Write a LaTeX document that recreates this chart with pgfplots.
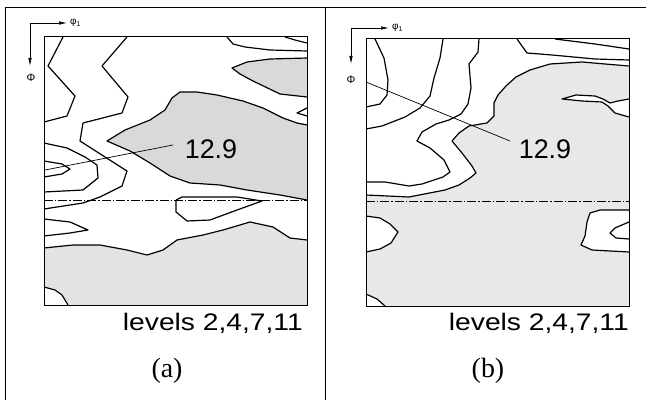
\documentclass[border=0pt]{standalone}
\usepackage{fontspec}
\setmainfont{Liberation Sans}
\newfontfamily\seriffont{Liberation Serif}
\usepackage{graphicx}
\usepackage{pgfplots}
\pgfplotsset{compat=1.18}
\usetikzlibrary{arrows.meta}
\definecolor{stipA}{gray}{0.85}
\definecolor{stipB}{gray}{0.89}
\definecolor{stipC}{gray}{0.91}
\pgfplotsset{
  odf/.style={scale only axis, anchor=south west, y dir=reverse,
    xtick=\empty, ytick=\empty, clip=false, axis on top,
    axis line style={line width=1pt}},
  cl/.style={black, line width=1.2pt, line join=round},
  dd/.style={black, line width=0.9pt, dash pattern=on 9pt off 2pt on 1.5pt off 2pt},
  lead/.style={black, line width=0.7pt},
}
\newcommand{\bigtxt}{\fontsize{27}{31}\selectfont}
\newcommand{\levtxt}{\fontsize{24}{28}\selectfont}
\newcommand{\captxt}{\seriffont\fontsize{28}{32}\selectfont}
\begin{document}
\begin{tikzpicture}
\useasboundingbox (0,0) rectangle (646bp,400bp);
\draw[line width=1pt] (5bp,0) -- (5bp,392bp) -- (646bp,392bp);
\draw[line width=1pt] (325bp,0) -- (325bp,392bp);
% ---------------- panel (a)
\begin{axis}[odf, at={(44bp,95bp)}, width=263bp, height=268bp,
  xmin=44, xmax=307, ymin=37, ymax=305]
% shaded regions
\addplot[fill=stipA, draw=none] coordinates {(107,141) (125,130) (150,120) (165,110) (172,98) (180,92) (197,92) (217,95) (243,101) (263,108) (283,118) (297,123) (307,125) (307,200) (280,195) (247,190) (220,185) (190,183) (170,176) (150,163) (130,151) (107,141)};
\addplot[fill=stipA, draw=none] coordinates {(307,58) (270,59) (247,62) (232,68) (240,74) (253,81) (280,94) (307,97)};
\addplot[fill=stipB, draw=none] coordinates {(44,248) (73,245) (100,245) (127,250) (147,255) (163,250) (177,240) (203,235) (223,230) (250,222) (273,227) (290,238) (307,240) (307,305) (68,305) (62,295) (55,290) (44,287)};
% contour lines
\addplot[cl] coordinates {(307,125) (297,123) (283,118) (263,108) (243,101) (217,95) (197,92) (180,92) (172,98) (165,110) (150,120) (125,130) (107,141) (130,151) (150,163) (170,176) (190,183) (220,185) (247,190) (280,195) (307,200)};
\addplot[cl] coordinates {(307,58) (270,59) (247,62) (232,68) (240,74) (253,81) (280,94) (307,97)};
\addplot[cl] coordinates {(285,37) (295,40) (307,43)};
\addplot[cl] coordinates {(227,37) (233,44) (245,47) (270,50) (307,51)};
\addplot[cl] coordinates {(307,108) (297,113) (307,116)};
\addplot[cl] coordinates {(63,37) (48,66) (75,96) (67,116) (44,122)};
\addplot[cl] coordinates {(127,37) (102,66) (128,97) (122,113) (83,123) (80,141) (105,157) (127,171) (122,186) (100,197) (83,203) (44,209)};
\addplot[cl] coordinates {(44,219) (70,222) (88,230) (70,233) (44,236)};
\addplot[cl] coordinates {(44,143) (67,148) (85,157) (97,165) (98,178) (83,190) (44,192)};
\addplot[cl] coordinates {(44,161) (62,164) (70,169) (62,174) (44,177)};
\addplot[cl] coordinates {(176,200) (182,197) (237,197) (262,201) (237,210) (210,220) (187,221) (176,212) (176,200)};
\addplot[cl] coordinates {(44,248) (73,245) (100,245) (127,250) (147,255) (163,250) (177,240) (203,235) (223,230) (250,222) (273,227) (290,238) (307,240)};
\addplot[cl] coordinates {(44,287) (55,290) (62,295) (68,305)};
\addplot[dd] coordinates {(44,200) (307,200)};
\addplot[lead] coordinates {(45,170) (173,145)};
% annotations
\node[font=\bigtxt] at (axis cs:211,149) {12.9};
\node[anchor=base east, font=\levtxt, inner sep=0pt] at (axis cs:303,330) {\scalebox{1.18}[1]{levels 2,4,7,11}};
\node[font=\captxt] at (axis cs:167,371) {(a)};
\draw[line width=0.7pt, -{Latex[length=8bp,width=3.5bp]}] (axis cs:30,23) -- (axis cs:67,23);
\draw[line width=0.7pt, -{Latex[length=8bp,width=3.5bp]}] (axis cs:30,23) -- (axis cs:30,66);
\node[anchor=west, font=\fontsize{10}{12}\selectfont, inner sep=1pt] at (axis cs:69,23) {φ\textsubscript{1}};
\node[font=\fontsize{11}{13}\selectfont] at (axis cs:31,78) {Φ};
\end{axis}
% ---------------- panel (b)
\begin{axis}[odf, at={(366bp,94bp)}, width=263bp, height=267bp,
  xmin=366, xmax=629, ymin=39, ymax=306]
\addplot[fill=stipC, draw=none] coordinates {(366,195) (409,197) (445,190) (459,185) (470,178) (476,173) (472,166) (462,153) (452,141) (459,133) (469,126) (487,123) (494,116) (494,103) (498,95) (506,86) (516,77) (530,70) (550,64) (582,62) (605,64) (629,66) (629,306) (385,306) (377,299) (366,294)};
% white pockets
\addplot[fill=white, draw=none] coordinates {(629,99) (618,101) (610,103) (603,99) (595,96) (576,95) (562,99) (582,101) (602,102) (608,106) (615,113) (629,117)};
\addplot[fill=white, draw=none] coordinates {(366,216) (380,218) (390,224) (398,232) (391,243) (380,249) (366,252)};
\addplot[fill=white, draw=none] coordinates {(629,210) (600,210) (590,213) (587,222) (585,236) (581,245) (592,250) (629,252)};
% contour lines
\addplot[cl] coordinates {(366,195) (409,197) (445,190) (459,185) (470,178) (476,173) (472,166) (462,153) (452,141) (459,133) (469,126) (487,123) (494,116) (494,103) (498,95) (506,86) (516,77) (530,70) (550,64) (582,62) (605,64) (629,66)};
\addplot[cl] coordinates {(629,99) (618,101) (610,103) (603,99) (595,96) (576,95) (562,99) (582,101) (602,102) (608,106) (615,113) (629,117)};
\addplot[cl] coordinates {(517,39) (527,53) (552,55) (595,59) (629,60)};
\addplot[cl] coordinates {(555,39) (595,44) (629,49)};
\addplot[cl] coordinates {(375,39) (384,58) (388,80) (387,95) (380,104) (366,107)};
\addplot[cl] coordinates {(443,39) (440,58) (434,78) (430,96) (420,108) (405,117) (382,126) (366,129)};
\addplot[cl] coordinates {(479,39) (478,52) (469,64) (471,88) (468,104) (461,114) (449,120) (436,124) (422,132) (417,141) (430,148) (444,160) (450,172) (443,177) (422,184) (409,186) (385,182) (366,182)};
\addplot[cl] coordinates {(366,216) (380,218) (390,224) (398,232) (391,243) (380,249) (366,252)};
\addplot[cl] coordinates {(629,210) (600,210) (590,213) (587,222) (585,236) (581,245) (592,250) (629,252)};
\addplot[cl] coordinates {(629,222) (615,228) (610,233) (616,238) (629,239)};
\addplot[cl] coordinates {(366,294) (377,299) (385,306)};
\addplot[dd] coordinates {(366,201) (629,201)};
\addplot[lead] coordinates {(366,82) (510,141)};
\node[font=\bigtxt] at (axis cs:545,149) {12.9};
\node[anchor=base east, font=\levtxt, inner sep=0pt] at (axis cs:629,330) {\scalebox{1.18}[1]{levels 2,4,7,11}};
\node[font=\captxt] at (axis cs:488,371) {(b)};
\draw[line width=0.7pt, -{Latex[length=8bp,width=3.5bp]}] (axis cs:351,28) -- (axis cs:389,28);
\draw[line width=0.7pt, -{Latex[length=8bp,width=3.5bp]}] (axis cs:351,28) -- (axis cs:351,64);
\node[anchor=west, font=\fontsize{10}{12}\selectfont, inner sep=1pt] at (axis cs:391,28) {φ\textsubscript{1}};
\node[font=\fontsize{11}{13}\selectfont] at (axis cs:351,80) {Φ};
\end{axis}
\end{tikzpicture}
\end{document}
